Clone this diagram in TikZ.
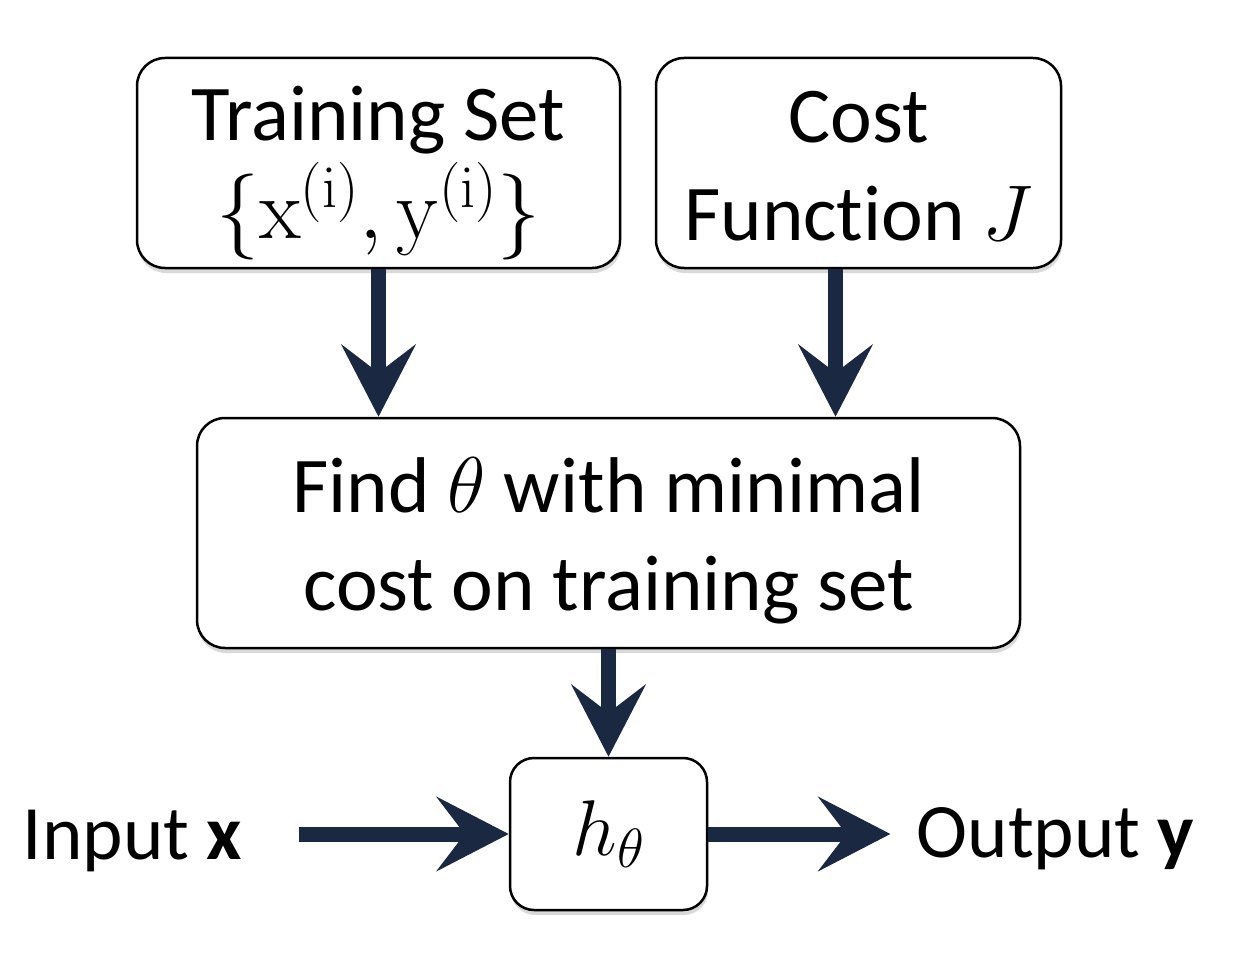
\RequirePackage{fix-cm}
\documentclass[tikz,border=0pt]{standalone}
\usepackage[no-math]{fontspec}
\setmainfont{Carlito}[Ligatures = NoCommon]
\usetikzlibrary{arrows.meta, shadows}
\definecolor{arrowblue}{RGB}{27,40,65}
\tikzset{
    block/.style = {
        draw, line width = 2.5pt, rounded corners = 28pt, fill = white,
        align = center, inner sep = 0pt, font = \fontsize{79}{98}\selectfont,
        drop shadow = {shadow xshift = 1pt, shadow yshift = -5pt, opacity = 0.3}
    },
    label text/.style = {inner sep = 0pt},
    flow/.style = {
        draw = arrowblue, line width = 15pt,
        arrows = {-Stealth[length = 72pt, width = 74pt, inset = 28pt]}
    }
}
\newcommand{\pushdown}[1]{\rule{0pt}{#1}}
\begin{document}
\begin{tikzpicture}[x = 1pt, y = -1pt, font = \fontsize{77}{96}\selectfont]
    \useasboundingbox (0, 0) rectangle (1246, 952);
    \node (train) [block, minimum width = 483pt, minimum height = 210pt] at (378.5, 163) {\pushdown{74pt}Training Set\\ {\fontsize{86}{98}\selectfont $\{\mathrm{x}^{(\mathrm{i})}, \mathrm{y}^{(\mathrm{i})}\}$}};
    \node (cost) [block, minimum width = 405pt, minimum height = 210pt] at (858.5, 163) {\pushdown{58pt}Cost\\ Function $J$};
    \node (find) [block, minimum width = 823pt, minimum height = 230pt] at (608.5, 533) {\pushdown{70pt}Find $\theta$ with minimal\\ cost on training set};
    \node (h) [block, rounded corners = 24pt, minimum width = 197pt, minimum height = 152pt] at (608.5, 834) {$h_\theta$};
    \node (in) [label text] at (132.5, 841) {Input \textbf{x}};
    \node (out) [label text] at (1055.5, 839) {Output \textbf{y}};
    \draw [flow] (train) -- (train |- find.north);
    \draw [flow] ([xshift = -23pt] cost.south) -- ([xshift = -23pt] cost.south |- find.north);
    \draw [flow] (find) -- (h);
    \draw [flow, shorten < = 57pt] (in.east |- h.west) -- (h.west);
    \draw [flow, shorten > = 26pt] (h.east) -- (out.west |- h.east);
\end{tikzpicture}
\end{document}
